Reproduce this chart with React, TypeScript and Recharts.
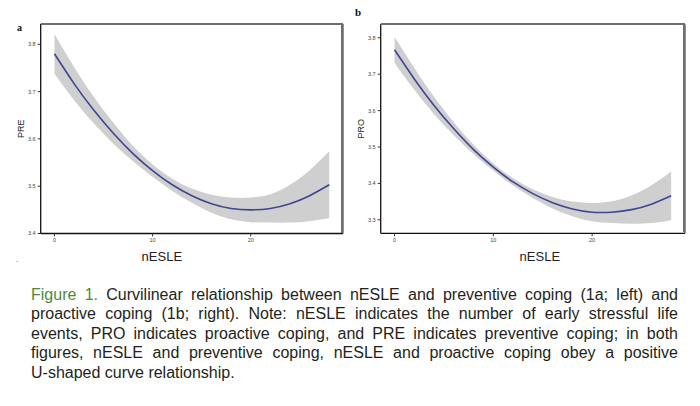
/**
 * Figure 1 — curvilinear fit of preventive (PRE) and proactive (PRO) coping
 * against nESLE, with a grey confidence band around each fitted curve.
 */

import { ComposedChart, Area, Line, XAxis, YAxis, Label, CartesianGrid } from "recharts";

// ---------------------------------------------------------------------------
// Data
// ---------------------------------------------------------------------------

const nESLE = [0, 2, 4, 6, 8, 10, 12, 14, 16, 18, 20, 22, 24, 26, 28];

// panel a — PRE
const preFit = [3.78, 3.717, 3.661, 3.612, 3.569, 3.533, 3.503, 3.48, 3.463, 3.453, 3.45, 3.453, 3.463, 3.48, 3.503];
const preLow = [3.738, 3.682, 3.633, 3.59, 3.553, 3.52, 3.49, 3.465, 3.444, 3.43, 3.424, 3.423, 3.423, 3.426, 3.432];
const preHigh = [3.822, 3.752, 3.689, 3.634, 3.585, 3.546, 3.516, 3.495, 3.482, 3.476, 3.476, 3.483, 3.503, 3.534, 3.574];

// panel b — PRO
const proFit = [3.767, 3.687, 3.614, 3.55, 3.493, 3.445, 3.404, 3.372, 3.347, 3.33, 3.321, 3.321, 3.328, 3.343, 3.366];
const proLow = [3.731, 3.657, 3.59, 3.532, 3.48, 3.435, 3.394, 3.36, 3.331, 3.31, 3.296, 3.291, 3.289, 3.291, 3.299];
const proHigh = [3.803, 3.717, 3.638, 3.568, 3.506, 3.455, 3.414, 3.384, 3.363, 3.35, 3.346, 3.351, 3.367, 3.395, 3.433];

const xDomain: [number, number] = [-1.4, 29.4];
const xTicks = [0, 10, 20];
const preDomain: [number, number] = [3.4, 3.843];
const preTicks = [3.4, 3.5, 3.6, 3.7, 3.8];
const proDomain: [number, number] = [3.263, 3.837];
const proTicks = [3.3, 3.4, 3.5, 3.6, 3.7, 3.8];

const captionLines = [
  "Curvilinear relationship between nESLE and preventive coping (1a; left) and",
  "proactive coping (1b; right). Note: nESLE indicates the number of early stressful life",
  "events, PRO indicates proactive coping, and PRE indicates preventive coping; in both",
  "figures, nESLE and preventive coping, nESLE and proactive coping obey a positive",
  "U-shaped curve relationship.",
];

const LINE_COLOR = "#3f4592";
const BAND_COLOR = "#cfcfcf";
const BORDER_COLOR = "#6e6e6e";
const TICK_STYLE = { fill: "#444", fontSize: 5.5, fontFamily: "Liberation Sans, Arial, sans-serif" };

const CHART_W = 350;
const CHART_H = 270;
const Y_AXIS_W = 40.7;

function build(fit: number[], low: number[], high: number[]) {
  return nESLE.map((x, i) => ({ x, fit: fit[i], band: [low[i], high[i]] }));
}

interface PanelProps {
  data: { x: number; fit: number; band: number[] }[];
  yLabel: string;
  yDomain: [number, number];
  yTicks: number[];
  marginTop: number;
  marginRight: number;
  xAxisHeight: number;
  xLabelDx: number;
}

function Panel({ data, yLabel, yDomain, yTicks, marginTop, marginRight, xAxisHeight, xLabelDx }: PanelProps) {
  return (
    <div style={{ position: "relative", width: CHART_W, height: CHART_H }}>
      <ComposedChart
        width={CHART_W}
        height={CHART_H}
        data={data}
        margin={{ top: marginTop, right: marginRight, bottom: 0, left: 0 }}
      >
        {/* top and right edges of the panel frame */}
        <CartesianGrid
          stroke={BORDER_COLOR}
          strokeWidth={1.5}
          horizontalCoordinatesGenerator={({ offset }: any) => [offset.top]}
          verticalCoordinatesGenerator={({ offset }: any) => [offset.left + offset.width]}
        />
        <XAxis
          dataKey="x"
          type="number"
          domain={xDomain}
          ticks={xTicks}
          height={xAxisHeight}
          allowDataOverflow
          tick={TICK_STYLE}
          tickSize={3}
          tickLine={{ stroke: "#333" }}
          axisLine={{ stroke: "#111", strokeWidth: 1.3 }}
        >
          <Label
            value="nESLE"
            position="center"
            dx={xLabelDx}
            dy={5}
            style={{ fontSize: 13, fill: "#222", fontFamily: "Liberation Sans, Arial, sans-serif" }}
          />
        </XAxis>
        <YAxis
          type="number"
          domain={yDomain}
          ticks={yTicks}
          width={Y_AXIS_W}
          allowDataOverflow
          tick={TICK_STYLE}
          tickSize={3}
          tickLine={{ stroke: "#333" }}
          axisLine={{ stroke: "#111", strokeWidth: 1.3 }}
          tickFormatter={(v: number) => v.toFixed(1)}
        >
          <Label
            value={yLabel}
            angle={-90}
            position="center"
            style={{ fontSize: 9, fill: "#222", fontFamily: "Liberation Sans, Arial, sans-serif" }}
          />
        </YAxis>
        <Area
          dataKey="band"
          type="natural"
          stroke="none"
          fill={BAND_COLOR}
          fillOpacity={1}
          isAnimationActive={false}
          activeDot={false}
        />
        <Line
          dataKey="fit"
          type="natural"
          stroke={LINE_COLOR}
          strokeWidth={1.6}
          dot={false}
          activeDot={false}
          isAnimationActive={false}
        />
      </ComposedChart>
      {/* fallback frame edges drawn over the chart */}
      <div
        style={{
          position: "absolute",
          pointerEvents: "none",
          zIndex: 5,
          left: Math.round(Y_AXIS_W),
          top: Math.round(marginTop) - 1,
          width: Math.round(CHART_W - Y_AXIS_W - marginRight),
          height: Math.round(CHART_H - marginTop - xAxisHeight),
          boxSizing: "border-box",
          borderTop: `2px solid ${BORDER_COLOR}`,
          borderRight: `2px solid ${BORDER_COLOR}`,
        }}
      />
    </div>
  );
}

export default function App() {
  const preData = build(preFit, preLow, preHigh);
  const proData = build(proFit, proLow, proHigh);

  return (
    <div style={{ position: "absolute", left: 0, top: 0, width: 700, height: 406, background: "#fff", overflow: "hidden" }}>
      <div style={{ position: "absolute", left: 0, top: 0 }}>
        <Panel
          data={preData}
          yLabel="PRE"
          yDomain={preDomain}
          yTicks={preTicks}
          marginTop={24}
          marginRight={7}
          xAxisHeight={36.5}
          xLabelDx={-30}
        />
      </div>
      <div style={{ position: "absolute", left: 340, top: 0 }}>
        <Panel
          data={proData}
          yLabel="PRO"
          yDomain={proDomain}
          yTicks={proTicks}
          marginTop={24.3}
          marginRight={5}
          xAxisHeight={36.7}
          xLabelDx={7}
        />
      </div>

      <div style={{ position: "absolute", left: 17, top: 22, fontFamily: "Liberation Serif, serif", fontWeight: 700, fontSize: 10, color: "#111" }}>
        a
      </div>
      <div style={{ position: "absolute", left: 355, top: 6, fontFamily: "Liberation Serif, serif", fontWeight: 700, fontSize: 11, color: "#111" }}>
        b
      </div>
      <div style={{ position: "absolute", left: 16, top: 257, fontFamily: "Liberation Sans, sans-serif", fontSize: 7, color: "#888" }}>
        -
      </div>

      <div
        style={{
          position: "absolute",
          left: 31,
          top: 285,
          width: 647,
          fontFamily: "Liberation Sans, Arial, sans-serif",
          fontSize: 16,
          lineHeight: "19.4px",
          color: "#231f20",
        }}
      >
        {captionLines.map((line, i) => (
          <div
            key={i}
            style={{
              whiteSpace: "nowrap",
              textAlign: "justify",
              textAlignLast: i < captionLines.length - 1 ? "justify" : "left",
            }}
          >
            {i === 0 && <span style={{ color: "#4f8a3a" }}>Figure 1. </span>}
            {line}
          </div>
        ))}
      </div>
    </div>
  );
}
